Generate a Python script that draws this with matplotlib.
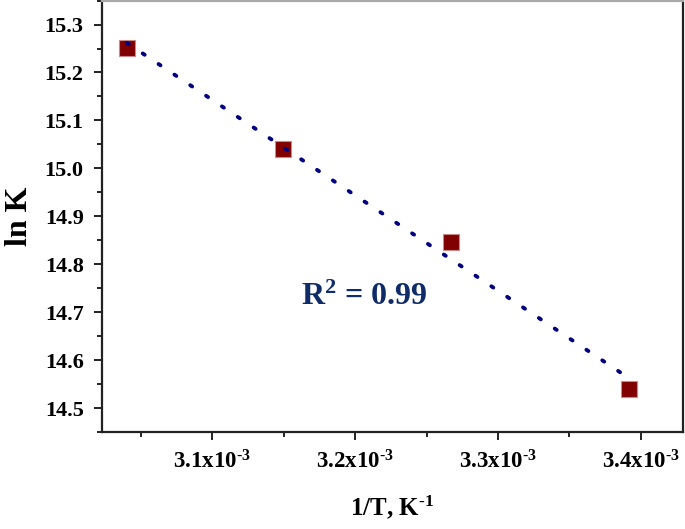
import numpy as np
import matplotlib
matplotlib.use('Agg')
import matplotlib.pyplot as plt
from matplotlib.ticker import MultipleLocator, FuncFormatter

plt.rcParams['font.family'] = ['Liberation Serif', 'DejaVu Serif']
plt.rcParams['font.weight'] = 'bold'
plt.rcParams['mathtext.fontset'] = 'custom'
plt.rcParams['mathtext.rm'] = 'Liberation Serif:bold'
plt.rcParams['mathtext.bf'] = 'Liberation Serif:bold'
plt.rcParams['mathtext.default'] = 'bf'

# data
inv_T = np.array([3.0402e-3, 3.1497e-3, 3.2669e-3, 3.3920e-3])
ln_K = np.array([15.251, 15.041, 14.847, 14.540])
r2_label = r'R$^2$ = 0.99'

fig = plt.figure(figsize=(6.85, 5.29), dpi=100)
ax = fig.add_axes([0.1485, 0.1828, 0.8485, 0.8162])

# linear fit through the points
coef = np.polyfit(inv_T, ln_K, 1)
xfit = np.array([inv_T[0], inv_T[-1]])
yfit = np.polyval(coef, xfit)

ax.plot(inv_T, ln_K, linestyle='none', marker='s', markersize=11.5,
        markerfacecolor='#800000', markeredgecolor='#c98a8a',
        markeredgewidth=0.8, zorder=3)
ax.plot(xfit, yfit, color='#000080', linewidth=2.8,
        linestyle=(0, (0.6, 4.3)), dash_capstyle='round', zorder=4)

ax.text(3.2061e-3, 14.732, r2_label, color='#0f2c69', fontsize=23,
        fontweight='bold', ha='center', va='center')

ax.set_xlim(3.0226e-3, 3.4295e-3)
ax.set_ylim(14.45, 15.35)

ax.xaxis.set_major_locator(MultipleLocator(0.1e-3))
ax.xaxis.set_minor_locator(MultipleLocator(0.05e-3))
ax.yaxis.set_major_locator(MultipleLocator(0.1))
ax.yaxis.set_minor_locator(MultipleLocator(0.05))
ax.xaxis.set_major_formatter(FuncFormatter(lambda v, p: '%.1fx10$^{\u20103}$' % (v * 1e3)))
ax.yaxis.set_major_formatter(FuncFormatter(lambda v, p: '%.1f' % v))

ax.tick_params(which='major', direction='out', length=6, width=1.4,
               labelsize=16, color='#222222')
ax.tick_params(which='minor', direction='out', length=3.5, width=1.4,
               color='#222222')
ax.tick_params(axis='y', pad=7)
ax.tick_params(axis='x', pad=7, labelsize=16.5)
ax.tick_params(top=False, right=False, which='both')

for side in ['left', 'bottom', 'right']:
    ax.spines[side].set_linewidth(1.6)
    ax.spines[side].set_color('#222222')
ax.spines['top'].set_linewidth(1.6)
ax.spines['top'].set_color('#aaaaaa')

ax.set_xlabel('1/T, K$^{\u20101}$', fontsize=18, fontweight='bold', labelpad=14)
ax.set_ylabel('ln K', fontsize=23, fontweight='bold', labelpad=8)

fig.savefig('out.png', dpi=100)
